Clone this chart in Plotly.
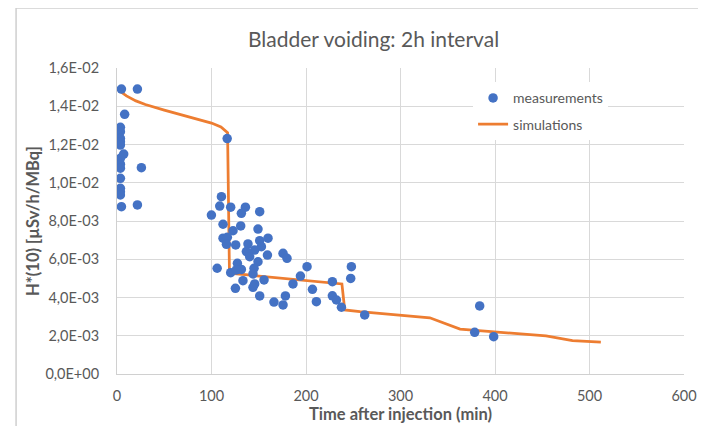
import plotly.graph_objects as go

# Measurements (time in min, H*(10) in µSv/h/MBq)
meas_time = [
    4.7, 21.6, 8.1, 3.6, 3.6, 1.1, 3.6, 3.6, 3.6, 7.1, 3.6, 1.1, 3.6, 3.6, 25.8,
    3.6, 3.6, 3.6, 3.6, 4.7, 21.6,
    116.6, 110.5, 108.7, 99.9, 120.3, 135.9, 131.6, 151.0, 112.2, 130.9, 122.8,
    149.2, 112.2, 116.8, 115.8, 125.6, 138.6, 151.0, 159.8, 152.8, 136.9, 145.7,
    140.4, 159.2, 175.7, 179.9, 149.2, 145.0, 127.4, 106.0, 120.3, 131.6, 126.3,
    143.9, 133.3, 155.6, 145.7, 125.3, 143.9, 186.2, 151.0, 178.2, 166.1, 175.7,
    201.1, 194.1, 206.8, 227.9, 248.0, 247.3, 211.0, 227.9, 232.2, 237.5, 262.1,
    383.8, 378.5, 398.6,
]
meas_value = [
    0.01490, 0.01490, 0.01358, 0.01290, 0.01267, 0.01250, 0.01232, 0.01215,
    0.01197, 0.01150, 0.01128, 0.01110, 0.01097, 0.01076, 0.01079, 0.01023,
    0.00971, 0.00953, 0.00936, 0.00875, 0.00884,
    0.01231, 0.00927, 0.00878, 0.00831, 0.00872, 0.00872, 0.00840, 0.00849,
    0.00783, 0.00774, 0.00749, 0.00758, 0.00710, 0.00715, 0.00678, 0.00675,
    0.00680, 0.00697, 0.00710, 0.00666, 0.00640, 0.00648, 0.00613, 0.00622,
    0.00631, 0.00605, 0.00587, 0.00553, 0.00579, 0.00553, 0.00530, 0.00547,
    0.00544, 0.00523, 0.00488, 0.00492, 0.00471, 0.00448, 0.00453, 0.00471,
    0.00408, 0.00408, 0.00376, 0.00361, 0.00561, 0.00512, 0.00443, 0.00483,
    0.00561, 0.00500, 0.00378, 0.00409, 0.00387, 0.00349, 0.00309,
    0.00356, 0.00218, 0.00195,
]

# Simulations
sim_time = [0, 10, 20, 30, 50, 75, 100, 110, 117, 119, 238, 241, 257, 331, 363,
            454, 482, 512]
sim_value = [0.01490, 0.01454, 0.01428, 0.01409, 0.01380, 0.01346, 0.01312,
             0.01292, 0.01262, 0.00527, 0.00471, 0.00335, 0.00326, 0.00294,
             0.00235, 0.00199, 0.00174, 0.00167]

x_ticks = [0, 100, 200, 300, 400, 500, 600]
y_ticks = [0, 0.002, 0.004, 0.006, 0.008, 0.010, 0.012, 0.014, 0.016]
y_ticktext = ["0,0E+00", "2,0E-03", "4,0E-03", "6,0E-03", "8,0E-03",
              "1,0E-02", "1,2E-02", "1,4E-02", "1,6E-02"]

FONT = "Lato, 'Open Sans', sans-serif"
GRAY = "#595959"

fig = go.Figure()
fig.add_trace(go.Scatter(
    x=sim_time, y=sim_value, mode="lines", name="simulations",
    line=dict(color="#ED7D31", width=2.75), legendgroup="b", legendrank=2,
))
fig.add_trace(go.Scatter(
    x=meas_time, y=meas_value, mode="markers", name="measurements",
    marker=dict(color="#4472C4", size=9.5), legendgroup="a", legendrank=1,
))

fig.update_layout(
    width=706, height=426,
    margin=dict(l=109, r=30, t=60, b=60),
    paper_bgcolor="white", plot_bgcolor="white",
    font=dict(family=FONT, color=GRAY, size=14),
    showlegend=True,
    legend=dict(
        x=0.628, y=0.953, xanchor="left", yanchor="top",
        bgcolor="white", borderwidth=0,
        font=dict(family=FONT, size=14, color=GRAY),
        traceorder="grouped", tracegroupgap=5,
    ),
    annotations=[dict(
        text="Bladder voiding: 2h interval", xref="paper", yref="paper",
        x=0.4515, y=1.098, xanchor="center", yanchor="middle", showarrow=False,
        font=dict(family=FONT, size=21, color=GRAY),
    )],
    shapes=[
        dict(type="line", xref="paper", yref="paper", x0=-0.178, x1=1.1,
             y0=1.196, y1=1.196, line=dict(color="#cfcfcf", width=1.5)),
        dict(type="line", xref="paper", yref="paper", x0=-0.178, x1=-0.178,
             y0=-0.2, y1=1.196, line=dict(color="#cfcfcf", width=1.5)),
    ],
)

fig.update_xaxes(
    range=[0, 600], tickvals=x_ticks, ticktext=[str(v) for v in x_ticks],
    showgrid=True, gridcolor="#d9d9d9", gridwidth=1, zeroline=False,
    showline=True, linecolor="#d0d0d0", linewidth=1, ticks="",
    ticklabelstandoff=9, tickfont=dict(size=14.5, color=GRAY, family=FONT),
    title=dict(text="<b>Time after injection (min)</b>", standoff=3,
               font=dict(size=16.5, color=GRAY, family=FONT)),
)
fig.update_yaxes(
    range=[0, 0.016], tickvals=y_ticks, ticktext=y_ticktext,
    showgrid=True, gridcolor="#d9d9d9", gridwidth=1, zeroline=False,
    showline=True, linecolor="#d0d0d0", linewidth=1, ticks="",
    ticklabelstandoff=14, tickfont=dict(size=14.5, color=GRAY, family=FONT),
    title=dict(text="<b>H*(10) [µSv/h/MBq]</b>", standoff=1,
               font=dict(size=16.5, color=GRAY, family=FONT)),
)

fig.write_html("out.html")
